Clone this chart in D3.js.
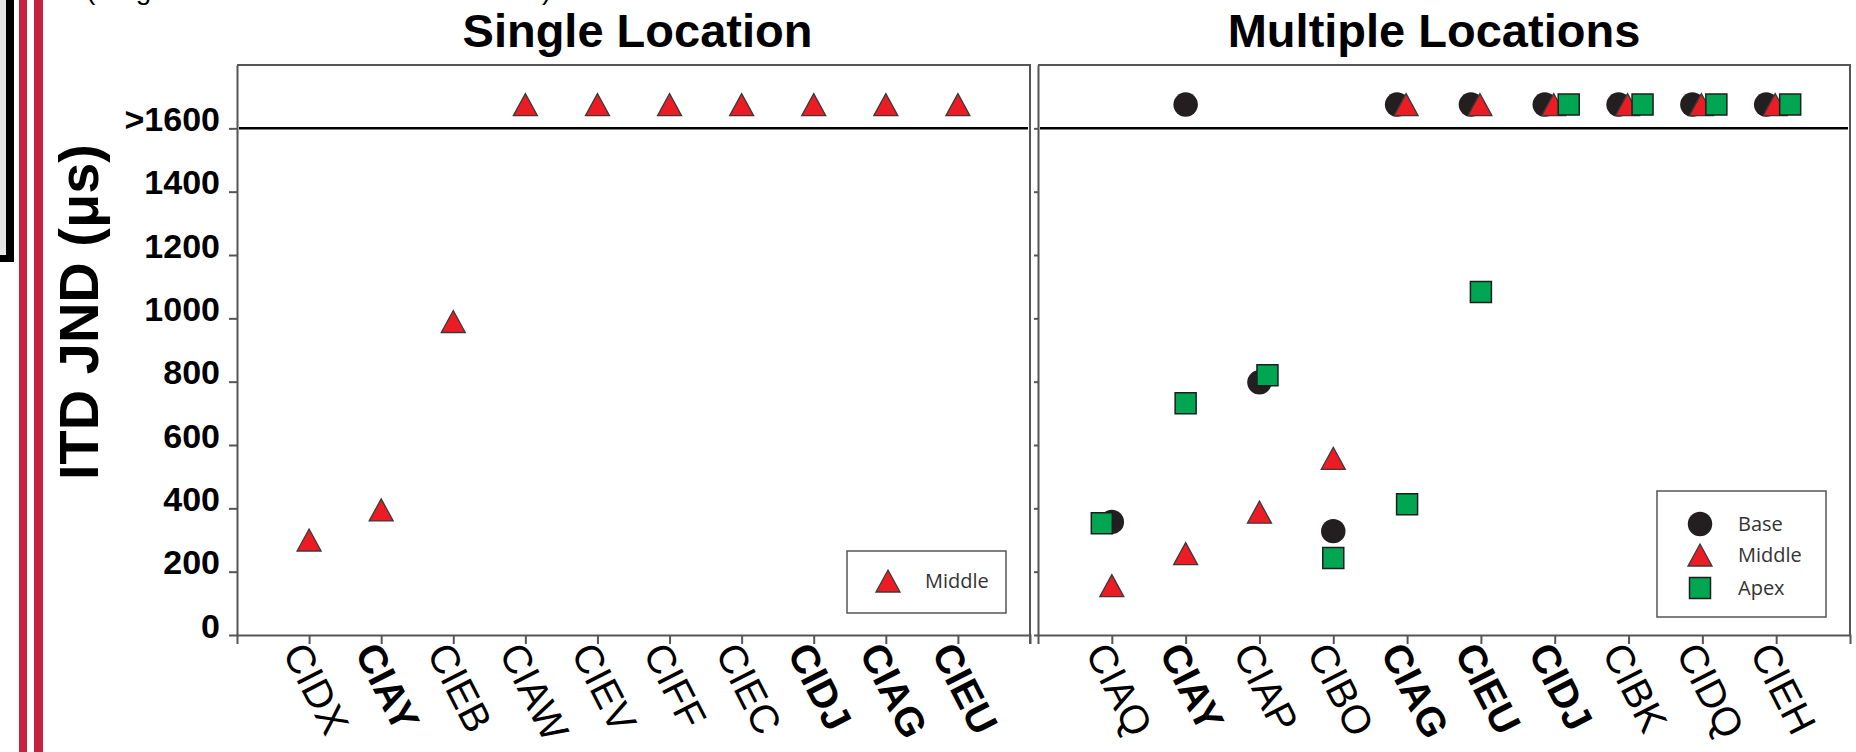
<!DOCTYPE html>
<html>
<head>
<meta charset="utf-8">
<script src="https://cdn.jsdelivr.net/npm/d3@7"></script>
<style>
  body { margin: 0; background: #fff; }
  svg { display: block; }
</style>
</head>
<body>
<script>
// ITD JND per subject, single vs multiple electrode locations
// ">1600" means the JND could not be measured (plotted above the line)

var OVER = ">1600";

var singleCats = ["CIDX", "CIAY", "CIEB", "CIAW", "CIEV", "CIFF", "CIEC", "CIDJ", "CIAG", "CIEU"];
var singleBold = ["CIAY", "CIDJ", "CIAG", "CIEU"];
var singleMiddle = [300, 395, 990, OVER, OVER, OVER, OVER, OVER, OVER, OVER];

var multiCats = ["CIAQ", "CIAY", "CIAP", "CIBO", "CIAG", "CIEU", "CIDJ", "CIBK", "CIDQ", "CIEH"];
var multiBold = ["CIAY", "CIAG", "CIEU", "CIDJ"];
var multiBase   = [357, OVER, 798, 328, OVER, OVER, OVER, OVER, OVER, OVER];
var multiMiddle = [156, 257, 388, 558, OVER, OVER, OVER, OVER, OVER, OVER];
var multiApex   = [353, 732, 820, 243, 413, 1083, OVER, OVER, OVER, OVER];

var yTicks = [0, 200, 400, 600, 800, 1000, 1200, 1400, 1600];
var yTickLabels = ["0", "200", "400", "600", "800", "1000", "1200", "1400", ">1600"];

var overBand = 1675;   // where values above 1600 get drawn
var yMax = 1800;

// ---------------------------------------------------------------
var W = 1856, H = 752;
var plotTop = 65, plotBottom = 635;
var leftPanel = {x0: 237, x1: 1030, titleShift: 4};
var rightPanel = {x0: 1038, x1: 1850, titleShift: -10};

var font = "'Liberation Sans', Arial, sans-serif";
var legendFont = "'Open Sans', 'Noto Sans', sans-serif";
var axisGray = "#555";

var colors = {Base: "#231f20", Middle: "#ed1c24", Apex: "#00a651"};

var svg = d3.select("body").append("svg")
	.attr("width", W)
	.attr("height", H);

svg.append("rect").attr("width", W).attr("height", H).attr("fill", "#fff");

// the slide decoration on the left edge
svg.append("rect").attr("x", 0).attr("y", 0).attr("width", 6).attr("height", 256).attr("fill", "#e6e6e6");
svg.append("rect").attr("x", 6).attr("y", 0).attr("width", 8).attr("height", 262).attr("fill", "#000");
svg.append("rect").attr("x", 0).attr("y", 255).attr("width", 14).attr("height", 7).attr("fill", "#000");
svg.append("rect").attr("x", 19).attr("y", 0).attr("width", 8).attr("height", H).attr("fill", "#c52240");
svg.append("rect").attr("x", 34).attr("y", 0).attr("width", 9).attr("height", H).attr("fill", "#c52240");

// text cut off by the top of the slide
svg.append("text")
	.attr("x", 86).attr("y", -1)
	.style("font-family", font)
	.style("font-size", "28px")
	.text("(Single electrode stimulation location)");

var y = d3.scaleLinear().domain([0, yMax]).range([plotBottom, plotTop]);

function yPos(v) {
	return v === OVER ? y(overBand) : y(v);
}

// marker shapes
var circlePath = d3.symbol(d3.symbolCircle, 470)();
var squarePath = d3.symbol(d3.symbolSquare, 441)();
var trianglePath = "M0,-11L12,11L-12,11Z";

function drawMarker(g, kind, x, yy) {
	if (kind == "Base") {
		g.append("path").attr("d", circlePath)
			.attr("transform", "translate(" + x + "," + yy + ")")
			.attr("fill", colors.Base);
	} else if (kind == "Middle") {
		g.append("path").attr("d", trianglePath)
			.attr("transform", "translate(" + x + "," + yy + ")")
			.attr("fill", colors.Middle)
			.attr("stroke", "#3a3a3a")
			.attr("stroke-width", 1.3);
	} else {
		g.append("path").attr("d", squarePath)
			.attr("transform", "translate(" + x + "," + yy + ")")
			.attr("fill", colors.Apex)
			.attr("stroke", "#1e1e1e")
			.attr("stroke-width", 1.5);
	}
}

function drawPanel(p, cats, bold, title, withLabels) {
	var x = d3.scalePoint().domain(cats).range([p.x0, p.x1]).padding(1);
	var g = svg.append("g");

	// frame
	g.append("path")
		.attr("d", "M" + p.x0 + "," + plotTop + "H" + p.x1 + "V" + plotBottom)
		.attr("fill", "none")
		.attr("stroke", axisGray)
		.attr("stroke-width", 2);

	// y axis
	var yAxis = d3.axisLeft(y)
		.tickValues(yTicks)
		.tickSizeInner(withLabels ? 8 : 4)
		.tickSizeOuter(0)
		.tickPadding(9)
		.tickFormat(function(d, i) { return withLabels ? yTickLabels[i] : ""; });

	var ya = g.append("g")
		.attr("transform", "translate(" + p.x0 + ",0)")
		.call(yAxis);
	ya.select(".domain").attr("stroke", axisGray).attr("stroke-width", 2);
	ya.selectAll(".tick line").attr("stroke", axisGray).attr("stroke-width", 2);
	ya.selectAll(".tick text")
		.attr("dy", 2)
		.style("font-family", font)
		.style("font-size", "34px")
		.style("font-weight", "bold")
		.attr("fill", "#000");

	// x axis
	var xAxis = d3.axisBottom(x).tickSizeInner(9).tickSizeOuter(9).tickPadding(0);
	var xa = g.append("g")
		.attr("transform", "translate(0," + plotBottom + ")")
		.call(xAxis);
	xa.select(".domain").attr("stroke", axisGray).attr("stroke-width", 2);
	xa.selectAll(".tick line").attr("stroke", axisGray).attr("stroke-width", 2);
	xa.selectAll(".tick text")
		.attr("y", 0)
		.attr("dy", "0.35em")
		.attr("text-anchor", "start")
		.attr("transform", "translate(-15,11) rotate(63)")
		.style("font-family", font)
		.style("font-size", "40px")
		.style("font-weight", function(d) { return bold.indexOf(d) >= 0 ? "bold" : "normal"; })
		.attr("fill", "#000");

	// the >1600 line
	g.append("line")
		.attr("x1", p.x0 + 2).attr("x2", p.x1 - 2)
		.attr("y1", y(1600)).attr("y2", y(1600))
		.attr("stroke", "#000")
		.attr("stroke-width", 2.5);

	// title
	g.append("text")
		.attr("x", (p.x0 + p.x1) / 2 + p.titleShift)
		.attr("y", 47)
		.attr("text-anchor", "middle")
		.style("font-family", font)
		.style("font-size", "47px")
		.style("font-weight", "bold")
		.text(title);

	return {g: g, x: x};
}

var L = drawPanel(leftPanel, singleCats, singleBold, "Single Location", true);
var R = drawPanel(rightPanel, multiCats, multiBold, "Multiple Locations", false);

// lower tick of the left panel's right border
svg.append("line")
	.attr("x1", leftPanel.x1).attr("x2", leftPanel.x1)
	.attr("y1", plotBottom).attr("y2", plotBottom + 9)
	.attr("stroke", axisGray).attr("stroke-width", 2);

// y axis title
svg.append("text")
	.attr("transform", "translate(98,312) rotate(-90)")
	.attr("text-anchor", "middle")
	.style("font-family", font)
	.style("font-size", "56px")
	.style("font-weight", "bold")
	.text("ITD JND (μs)");

// ---------------- points: single location -----------------
var lp = L.g.append("g");
singleCats.forEach(function(c, i) {
	drawMarker(lp, "Middle", L.x(c), yPos(singleMiddle[i]));
});

// ---------------- points: multiple locations ----------------
// markers that land on top of each other are pushed apart a little
var topDodge = {Base: -10, Middle: -1, Apex: 14};
var series = [["Base", multiBase], ["Middle", multiMiddle], ["Apex", multiApex]];

var rp = R.g.append("g");
series.forEach(function(s) {
	var kind = s[0], vals = s[1];
	multiCats.forEach(function(c, i) {
		var v = vals[i];
		var dx = 0;
		if (v === OVER) {
			var n = series.filter(function(t) { return t[1][i] === OVER; }).length;
			if (n > 1) dx = topDodge[kind];
		} else if (kind == "Apex" && multiBase[i] !== OVER && Math.abs(v - multiBase[i]) < 40) {
			dx = v < multiBase[i] ? -10 : 8;
		}
		drawMarker(rp, kind, R.x(c) + dx, yPos(v));
	});
});

// ---------------- legends ----------------
function legend(x0, y0, w, h, items) {
	var lg = svg.append("g");
	lg.append("rect")
		.attr("x", x0).attr("y", y0)
		.attr("width", w).attr("height", h)
		.attr("fill", "#fff")
		.attr("stroke", axisGray)
		.attr("stroke-width", 1.5);
	items.forEach(function(it) {
		drawMarker(lg, it.kind, it.mx, it.my);
		lg.append("text")
			.attr("x", it.tx).attr("y", it.my)
			.attr("dy", "0.36em")
			.style("font-family", legendFont)
			.style("font-size", "20px")
			.attr("fill", "#333")
			.text(it.kind);
	});
}

legend(847, 551, 159, 62, [{kind: "Middle", mx: 888, my: 581, tx: 925}]);
legend(1657, 491, 169, 126, [
	{kind: "Base", mx: 1700, my: 524, tx: 1738},
	{kind: "Middle", mx: 1700, my: 555, tx: 1738},
	{kind: "Apex", mx: 1700, my: 588, tx: 1738}
]);
</script>
</body>
</html>
